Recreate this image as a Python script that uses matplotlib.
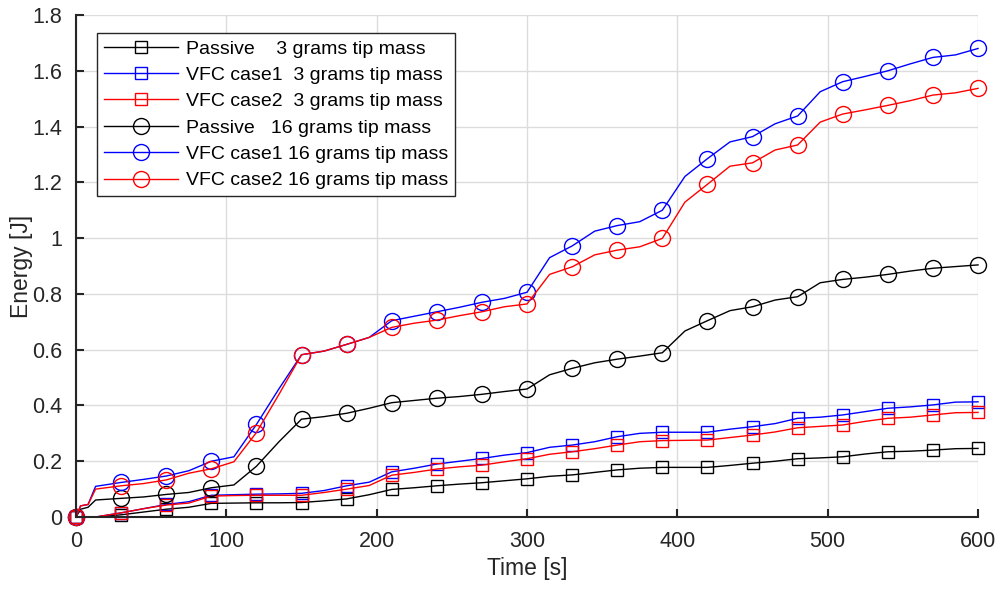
import numpy as np
import matplotlib
matplotlib.use("Agg")
import matplotlib.pyplot as plt

plt.rcParams['font.family'] = ['Liberation Sans', 'DejaVu Sans']

# Time grid [s]
time_s = [0, 3, 8, 13, 30, 45, 60, 75, 90, 105, 120, 135, 150, 165, 180, 195, 210,
          225, 240, 255, 270, 285, 300, 315, 330, 345, 360, 375, 390, 405, 420,
          435, 450, 465, 480, 495, 510, 525, 540, 555, 570, 585, 600]

passive_3g = [0, 0, 0, 0, 0.008, 0.018, 0.028, 0.035, 0.049, 0.050, 0.051, 0.051, 0.052,
              0.058, 0.065, 0.080, 0.099, 0.105, 0.112, 0.118, 0.123, 0.130, 0.137,
              0.146, 0.151, 0.160, 0.169, 0.175, 0.178, 0.178, 0.178, 0.185, 0.193,
              0.200, 0.209, 0.212, 0.216, 0.226, 0.234, 0.236, 0.240, 0.245, 0.246]

vfc1_3g = [0, 0, 0, 0, 0.015, 0.030, 0.045, 0.055, 0.078, 0.080, 0.082, 0.083, 0.085,
           0.095, 0.112, 0.125, 0.162, 0.175, 0.190, 0.200, 0.210, 0.222, 0.231,
           0.250, 0.258, 0.270, 0.288, 0.300, 0.304, 0.304, 0.304, 0.315, 0.324,
           0.335, 0.354, 0.358, 0.366, 0.378, 0.390, 0.395, 0.402, 0.412, 0.413]

vfc2_3g = [0, 0, 0, 0, 0.015, 0.030, 0.043, 0.050, 0.075, 0.077, 0.078, 0.078, 0.078,
           0.088, 0.100, 0.113, 0.150, 0.160, 0.172, 0.180, 0.186, 0.198, 0.209,
           0.225, 0.234, 0.245, 0.258, 0.270, 0.274, 0.275, 0.276, 0.285, 0.294,
           0.305, 0.320, 0.325, 0.330, 0.343, 0.354, 0.358, 0.366, 0.374, 0.375]

passive_16g = [0, 0.028, 0.035, 0.061, 0.067, 0.072, 0.081, 0.088, 0.105, 0.115, 0.182,
               0.270, 0.351, 0.360, 0.372, 0.390, 0.410, 0.418, 0.426, 0.432, 0.440,
               0.450, 0.459, 0.510, 0.533, 0.553, 0.566, 0.577, 0.589, 0.667, 0.704,
               0.740, 0.754, 0.778, 0.790, 0.840, 0.852, 0.860, 0.870, 0.882, 0.892,
               0.898, 0.904]

vfc1_16g = [0, 0.040, 0.045, 0.110, 0.124, 0.135, 0.147, 0.166, 0.200, 0.216, 0.332,
            0.460, 0.582, 0.595, 0.619, 0.644, 0.704, 0.720, 0.736, 0.752, 0.770,
            0.784, 0.806, 0.930, 0.972, 1.025, 1.045, 1.059, 1.100, 1.221, 1.285,
            1.345, 1.364, 1.410, 1.438, 1.525, 1.561, 1.580, 1.600, 1.625, 1.648,
            1.657, 1.680]

vfc2_16g = [0, 0.040, 0.045, 0.100, 0.112, 0.120, 0.133, 0.157, 0.173, 0.198, 0.303,
            0.440, 0.582, 0.595, 0.619, 0.644, 0.680, 0.695, 0.706, 0.722, 0.736,
            0.754, 0.764, 0.870, 0.897, 0.940, 0.957, 0.969, 0.999, 1.129, 1.193,
            1.258, 1.270, 1.316, 1.334, 1.416, 1.445, 1.460, 1.476, 1.493, 1.513,
            1.521, 1.537]

labels = ["Passive    3 grams tip mass",
          "VFC case1  3 grams tip mass",
          "VFC case2  3 grams tip mass",
          "Passive   16 grams tip mass",
          "VFC case1 16 grams tip mass",
          "VFC case2 16 grams tip mass"]

series = [passive_3g, vfc1_3g, vfc2_3g, passive_16g, vfc1_16g, vfc2_16g]
colors = ['black', '#0000ff', '#ff0000', 'black', '#0000ff', '#ff0000']
markers = ['s', 's', 's', 'o', 'o', 'o']
msizes = [9, 9, 9, 11.5, 11.5, 11.5]

t = np.array(time_s)
mark_idx = [i for i, v in enumerate(time_s) if v % 30 == 0]

fig = plt.figure(figsize=(9.98, 5.89), dpi=100)
ax = fig.add_axes([0.0762, 0.1222, 0.9038, 0.8523])

for y, c, m, ms, lab in zip(series, colors, markers, msizes, labels):
    ax.plot(t, y, color=c, lw=1.0, marker=m, markersize=ms, markevery=mark_idx,
            markerfacecolor='none', markeredgecolor=c, markeredgewidth=1.0,
            label=lab, clip_on=False, zorder=3)

ax.set_xlim(0, 600)
ax.set_ylim(0, 1.8)
ax.set_xticks(np.arange(0, 601, 100))
ax.set_yticks(np.arange(0, 1.81, 0.2))
ax.set_yticklabels(['0', '0.2', '0.4', '0.6', '0.8', '1', '1.2', '1.4', '1.6', '1.8'])
ax.grid(True, color='#dcdcdc', lw=1.0)
ax.set_axisbelow(True)
for s in ['top', 'right']:
    ax.spines[s].set_visible(False)
for s in ['left', 'bottom']:
    ax.spines[s].set_color('#262626')
    ax.spines[s].set_linewidth(1.5)
    ax.spines[s].set_zorder(4)
ax.tick_params(direction='in', length=6, width=1.5, colors='#262626',
               labelsize=15.5, pad=10)
ax.set_xlabel('Time [s]', fontsize=16.5, color='#262626', labelpad=4)
ax.set_ylabel('Energy [J]', fontsize=16.5, color='#262626', labelpad=-1)

leg = ax.legend(loc='upper left', bbox_to_anchor=(0.0233, 0.964), fontsize=14,
                frameon=True, fancybox=False, edgecolor='#262626', framealpha=1,
                handlelength=3.8, handletextpad=0.4, labelspacing=0.45,
                borderpad=0.35, borderaxespad=0)
leg.get_frame().set_linewidth(1.0)
leg.set_zorder(5)

fig.savefig('out.png', dpi=100)
